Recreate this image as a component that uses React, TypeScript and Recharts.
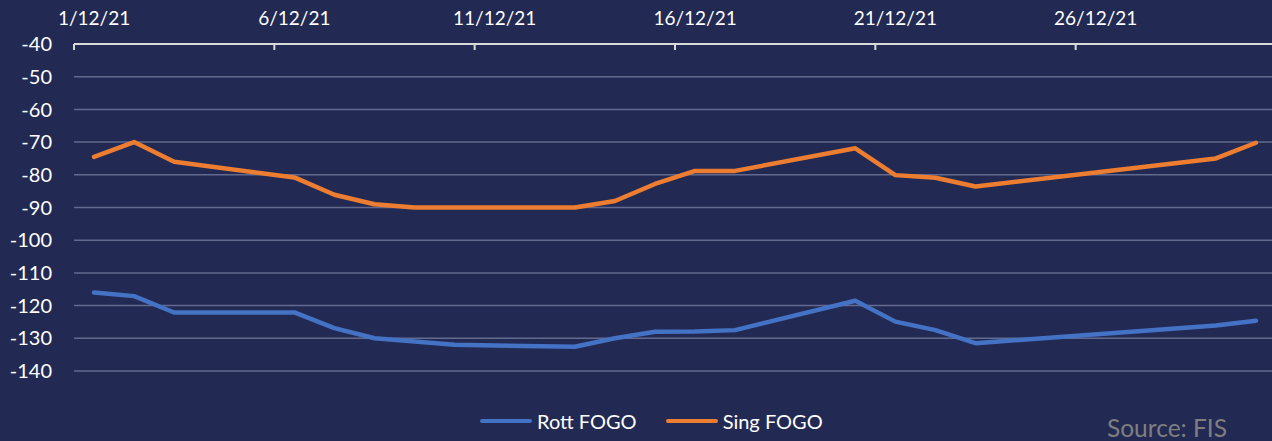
import React from "react";
import { LineChart, Line, XAxis, YAxis, CartesianGrid } from "recharts";

// Day of month (December 2021)
const days = Array.from({ length: 30 }, (_, i) => i + 1);

// Rott FOGO values by day (null where no data point)
const rottFogo: (number | null)[] = [
  -116.0, -117.1, -122.1, null, null, -122.1, -126.9, -130.0, -131.0, -132.0,
  null, null, -132.6, -130.0, -128.0, -127.9, -127.5, null, null, -118.5,
  -124.9, -127.5, -131.5, null, null, null, null, null, -126.1, -124.6,
];

// Sing FOGO values by day
const singFogo: (number | null)[] = [
  -74.5, -70.0, -76.0, null, null, -80.8, -86.1, -89.0, -90.0, -90.0,
  null, null, -90.0, -88.0, -82.8, -78.8, -78.8, null, null, -71.9,
  -80.1, -80.9, -83.6, null, null, null, null, null, -75.0, -70.2,
];

const xTickLabels = ["1/12/21", "6/12/21", "11/12/21", "16/12/21", "21/12/21", "26/12/21"];
const xTickBounds = [0.5, 5.5, 10.5, 15.5, 20.5, 25.5];
const yTicks = [-140, -130, -120, -110, -100, -90, -80, -70, -60, -50, -40];

const data = days.map((d, i) => ({ day: d, rott: rottFogo[i], sing: singFogo[i] }));

const BG = "#222a54";
const FONT = "Lato, 'Open Sans', sans-serif";
const CHART_W = 1290;
const CHART_H = 441;
const MARGIN = { top: 0, right: 14, bottom: 70, left: 0 };
const Y_W = 74;
const X_H = 44;
const PLOT_TOP = MARGIN.top + X_H;
const DAY_PX = (CHART_W - MARGIN.left - MARGIN.right - Y_W) / 30;

const XTick = (props: any) => {
  const { x, index } = props;
  const label = xTickLabels[index] ?? "";
  return (
    <g>
      <line x1={x} x2={x} y1={PLOT_TOP} y2={PLOT_TOP + 6} stroke="#d9d9d9" strokeWidth={2} />
      <text
        x={x + DAY_PX / 2}
        y={PLOT_TOP - 26}
        dy="0.355em"
        textAnchor="middle"
        fill="#ffffff"
        fontSize={19}
        fontFamily={FONT}
      >
        {label}
      </text>
    </g>
  );
};

export default function App() {
  return (
    <div
      style={{
        position: "fixed",
        left: 0,
        top: 0,
        width: 1272,
        height: 441,
        overflow: "hidden",
        background: BG,
        fontFamily: FONT,
      }}
    >
      <LineChart width={CHART_W} height={CHART_H} data={data} margin={MARGIN}>
        <CartesianGrid horizontal vertical={false} stroke="#636a8e" strokeWidth={1.5} />
        <XAxis
          dataKey="day"
          type="number"
          orientation="top"
          domain={[0.5, 30.5]}
          ticks={xTickBounds}
          interval={0}
          height={X_H}
          axisLine={{ stroke: "#d9d9d9", strokeWidth: 2 }}
          tickLine={false}
          tickSize={0}
          tick={<XTick />}
          allowDataOverflow
        />
        <YAxis
          type="number"
          domain={[-140, -40]}
          ticks={yTicks}
          interval={0}
          width={Y_W}
          axisLine={false}
          tickLine={false}
          tickSize={0}
          tickMargin={22}
          tick={{ fill: "#ffffff", fontSize: 20, fontFamily: FONT }}
        />
        <Line
          type="linear"
          dataKey="rott"
          name="Rott FOGO"
          stroke="#4472c4"
          strokeWidth={4.5}
          dot={false}
          connectNulls
          isAnimationActive={false}
          strokeLinejoin="round"
          strokeLinecap="round"
        />
        <Line
          type="linear"
          dataKey="sing"
          name="Sing FOGO"
          stroke="#ed7d31"
          strokeWidth={4.5}
          dot={false}
          connectNulls
          isAnimationActive={false}
          strokeLinejoin="round"
          strokeLinecap="round"
        />
      </LineChart>
      <div
        style={{
          position: "absolute",
          left: 480,
          top: 408,
          display: "flex",
          alignItems: "center",
          color: "#ffffff",
          fontSize: 20,
          lineHeight: "26px",
          whiteSpace: "nowrap",
        }}
      >
        <span style={{ display: "inline-block", width: 52, height: 4, background: "#4472c4", borderRadius: 2 }} />
        <span style={{ marginLeft: 5 }}>Rott FOGO</span>
        <span style={{ display: "inline-block", width: 52, height: 4, background: "#ed7d31", borderRadius: 2, marginLeft: 29 }} />
        <span style={{ marginLeft: 5 }}>Sing FOGO</span>
      </div>
      <div
        style={{
          position: "absolute",
          left: 1107,
          top: 413,
          color: "#7f7f7f",
          fontSize: 24.5,
          lineHeight: "30px",
          whiteSpace: "nowrap",
        }}
      >
        Source: FIS
      </div>
    </div>
  );
}
